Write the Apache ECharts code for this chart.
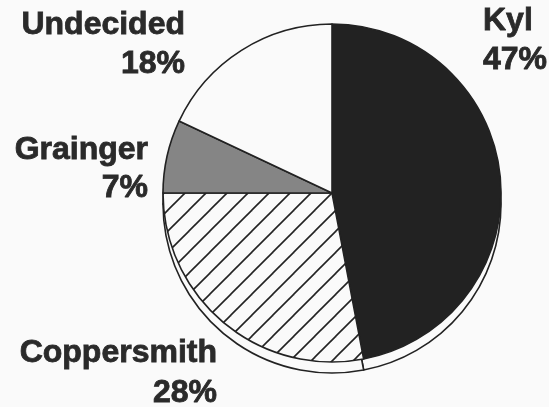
<!DOCTYPE html>
<html>
<head>
<meta charset="utf-8">
<script src="https://cdn.jsdelivr.net/npm/echarts@6/dist/echarts.min.js"></script>
<style>
html,body{margin:0;padding:0;background:#fafafa;}
#chart{width:549px;height:407px;}
</style>
</head>
<body>
<div id="chart"></div>
<script>
// Data
const candidates = ['Kyl', 'Coppersmith', 'Grainger', 'Undecided'];
const shares = [47, 28, 7, 18];

// hatch pattern canvas
function hatch(size) {
  const c = document.createElement('canvas');
  c.width = size; c.height = size;
  const g = c.getContext('2d');
  g.fillStyle = '#fafafa';
  g.fillRect(0, 0, size, size);
  g.strokeStyle = '#222';
  g.lineWidth = 1.6;
  for (const off of [-size, 0, size]) {
    g.beginPath();
    g.moveTo(off - 2, size + 2);
    g.lineTo(off + size + 2, -2);
    g.stroke();
  }
  return c;
}

const fills = {
  'Kyl': '#222222',
  'Coppersmith': { image: hatch(21), repeat: 'repeat' },
  'Grainger': '#858585',
  'Undecided': '#fafafa'
};

const pieData = candidates.map((n, i) => ({
  name: n, value: shares[i], itemStyle: { color: fills[n] }
}));
const baseData = candidates.map((n, i) => ({
  name: n, value: shares[i], itemStyle: { color: '#fafafa' }
}));

const font = 'bold 32px "Liberation Sans", Arial, sans-serif';
const labelPos = {
  'Undecided': { x: 185, y1: 25.5, y2: 64.5, align: 'right' },
  'Kyl': { x: 483, y1: 21.5, y2: 60.5, align: 'left' },
  'Grainger': { x: 148, y1: 150.5, y2: 188.5, align: 'right' },
  'Coppersmith': { x: 217, y1: 353.5, y2: 393.5, align: 'right' }
};
const graphics = [];
candidates.forEach((n, i) => {
  const p = labelPos[n];
  const st = { font: font, fill: '#2a2a2a', stroke: '#2a2a2a', lineWidth: 0.8,
    textAlign: p.align, textVerticalAlign: 'middle' };
  graphics.push({ type: 'text', x: p.x, y: p.y1, z: 10,
    style: Object.assign({ text: n }, st) });
  graphics.push({ type: 'text', x: p.x, y: p.y2, z: 10,
    style: Object.assign({ text: shares[i] + '%' }, st) });
});

const chart = echarts.init(document.getElementById('chart'), null, { renderer: 'canvas' });
chart.setOption({
  animation: false,
  backgroundColor: '#fafafa',
  series: [
    {
      type: 'pie', z: 1, center: [332, 204], radius: 169,
      startAngle: 90, clockwise: true, silent: true,
      label: { show: false }, labelLine: { show: false },
      itemStyle: { borderColor: '#222', borderWidth: 1.6 },
      emphasis: { disabled: true },
      data: baseData
    },
    {
      type: 'pie', z: 2, center: [332, 193], radius: 169,
      startAngle: 90, clockwise: true, silent: true,
      label: { show: false }, labelLine: { show: false },
      itemStyle: { borderColor: '#222', borderWidth: 1.6 },
      emphasis: { disabled: true },
      data: pieData
    }
  ],
  graphic: graphics
});
</script>
</body>
</html>
